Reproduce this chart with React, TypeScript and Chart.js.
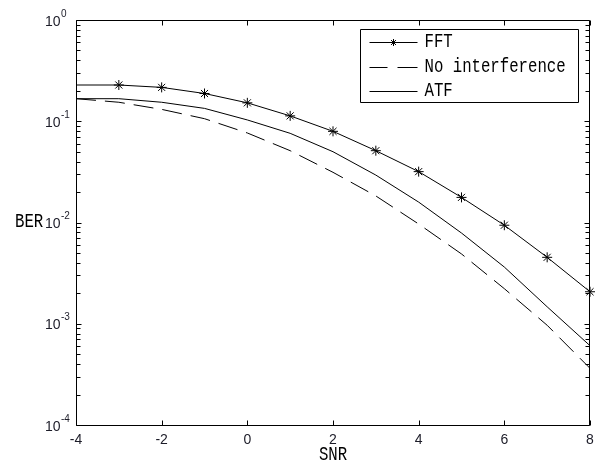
import React, { useEffect, useRef } from 'react';
import { Chart, registerables } from 'chart.js';

Chart.register(...registerables);

// ---- data ----
const snr = [-4, -3, -2, -1, 0, 1, 2, 3, 4, 5, 6, 7, 8];
const berFFT = [0.228, 0.228, 0.216, 0.188, 0.152, 0.113, 0.0795, 0.0512, 0.0318, 0.0177, 0.0094, 0.00453, 0.00207];
const berNoInterference = [0.167, 0.154, 0.131, 0.106, 0.0766, 0.0512, 0.0313, 0.0183, 0.00966, 0.00489, 0.00222, 0.000966, 0.000363];
const berATF = [0.167, 0.167, 0.154, 0.134, 0.103, 0.076, 0.05, 0.0294, 0.0159, 0.00787, 0.00363, 0.00147, 0.000607];
const seriesLabels = ['FFT', 'No interference', 'ATF'];
const xTickValues = [-4, -2, 0, 2, 4, 6, 8];
const yDecadeExponents = [-4, -3, -2, -1, 0];
const minorMultipliers = [2, 3, 4, 5, 6, 7, 8, 9];
const xTitle = 'SNR';
const yTitle = 'BER';

const MONO = '"Liberation Mono", Cousine, "Courier New", Courier, "Nimbus Mono PS", "Nimbus Mono L", FreeMono, "Liberation Serif", serif';
const SANS = '"Liberation Sans", Arial, sans-serif';
const INK = '#000000';
const LABEL_INK = '#1c1c28';

function drawStar(ctx: CanvasRenderingContext2D, x: number, y: number, r: number) {
  const d = r * Math.SQRT1_2;
  ctx.beginPath();
  ctx.moveTo(x - r, y);
  ctx.lineTo(x + r, y);
  ctx.moveTo(x, y - r);
  ctx.lineTo(x, y + r);
  ctx.moveTo(x - d, y - d);
  ctx.lineTo(x + d, y + d);
  ctx.moveTo(x - d, y + d);
  ctx.lineTo(x + d, y - d);
  ctx.stroke();
}

function monoText(ctx: CanvasRenderingContext2D, text: string, x: number, y: number, align: CanvasTextAlign) {
  ctx.save();
  ctx.font = `16px ${MONO}`;
  ctx.fillStyle = INK;
  ctx.textAlign = align;
  ctx.textBaseline = 'middle';
  ctx.translate(x, y);
  ctx.scale(0.98, 1.25);
  ctx.fillText(text, 0, 0);
  ctx.restore();
}

const matlabAxesPlugin = {
  id: 'matlabAxes',
  afterDatasetsDraw(chart: any) {
    const { ctx, chartArea: a, scales } = chart;
    const xs = scales.x;
    const ys = scales.y;
    const L = Math.round(a.left) + 0.5;
    const R = Math.round(a.right) - 0.5;
    const T = Math.round(a.top) + 0.5;
    const B = Math.round(a.bottom) + 0.5;
    ctx.save();
    ctx.strokeStyle = INK;
    ctx.lineWidth = 1;
    ctx.setLineDash([]);

    // box
    ctx.beginPath();
    ctx.rect(L, T, R - L, B - T);
    ctx.stroke();

    // x ticks (inside, top and bottom)
    ctx.beginPath();
    xTickValues.forEach((v) => {
      const px = Math.round(xs.getPixelForValue(v)) + 0.5;
      ctx.moveTo(px, B);
      ctx.lineTo(px, B - 5);
      ctx.moveTo(px, T);
      ctx.lineTo(px, T + 5);
    });
    // y ticks (major + minor, left and right)
    yDecadeExponents.forEach((e) => {
      const py = Math.round(ys.getPixelForValue(Math.pow(10, e))) + 0.5;
      ctx.moveTo(L, py);
      ctx.lineTo(L + 5, py);
      ctx.moveTo(R, py);
      ctx.lineTo(R - 5, py);
      if (e < 0) {
        minorMultipliers.forEach((m) => {
          const pm = Math.round(ys.getPixelForValue(m * Math.pow(10, e))) + 0.5;
          ctx.moveTo(L, pm);
          ctx.lineTo(L + 4, pm);
          ctx.moveTo(R, pm);
          ctx.lineTo(R - 4, pm);
        });
      }
    });
    ctx.stroke();

    // y tick labels 10^e
    ctx.fillStyle = LABEL_INK;
    yDecadeExponents.forEach((e) => {
      const py = ys.getPixelForValue(Math.pow(10, e));
      ctx.font = `14px ${SANS}`;
      ctx.textAlign = 'right';
      ctx.textBaseline = 'alphabetic';
      ctx.fillText('10', 60.5, py + 5.5);
      ctx.font = `10px ${SANS}`;
      ctx.textAlign = 'left';
      ctx.fillText(String(e), 61, py - 3.5);
    });

    // axis titles
    monoText(ctx, yTitle, 15, ys.getPixelForValue(Math.pow(10, -2)) - 1, 'left');
    monoText(ctx, xTitle, (a.left + a.right) / 2, 455, 'center');

    // legend
    const bx = Math.round(a.right) - 12 + 0.5;
    const lx = Math.round(a.top) + 10 - 0.5;
    const boxL = bx - 218;
    const boxT = lx;
    ctx.fillStyle = '#ffffff';
    ctx.fillRect(boxL, boxT, 218, 73);
    ctx.beginPath();
    ctx.rect(boxL, boxT, 218, 73);
    ctx.stroke();
    const rows = [boxT + 12, boxT + 37.5, boxT + 61];
    const s0 = boxL + 9;
    const s1 = boxL + 57;
    rows.forEach((ry, i) => {
      const yy = Math.round(ry) + 0.5;
      ctx.beginPath();
      if (i === 1) {
        ctx.moveTo(s0, yy);
        ctx.lineTo(s0 + 18, yy);
        ctx.moveTo(s0 + 28, yy);
        ctx.lineTo(s1, yy);
      } else {
        ctx.moveTo(s0, yy);
        ctx.lineTo(s1, yy);
      }
      ctx.stroke();
      if (i === 0) drawStar(ctx, (s0 + s1) / 2, yy, 3.5);
      monoText(ctx, seriesLabels[i], boxL + 64, ry, 'left');
    });
    ctx.restore();
  },
};

export default function App() {
  const ref = useRef<HTMLCanvasElement | null>(null);

  useEffect(() => {
    if (!ref.current) return;
    const mk = (vals: number[]) => snr.map((x, i) => ({ x, y: vals[i] }));
    const chart = new Chart(ref.current, {
      type: 'line',
      data: {
        datasets: [
          {
            label: seriesLabels[0],
            data: mk(berFFT),
            borderColor: INK,
            borderWidth: 1,
            pointStyle: 'star',
            pointRadius: snr.map((_, i) => (i === 0 ? 0 : 5)),
            pointBorderColor: INK,
            pointBorderWidth: 1,
            pointBackgroundColor: INK,
            tension: 0,
            clip: false as any,
          },
          {
            label: seriesLabels[1],
            data: mk(berNoInterference),
            borderColor: INK,
            borderWidth: 1,
            borderDash: [20, 9],
            pointRadius: 0,
            tension: 0,
          },
          {
            label: seriesLabels[2],
            data: mk(berATF),
            borderColor: INK,
            borderWidth: 1,
            pointRadius: 0,
            tension: 0,
          },
        ],
      },
      options: {
        animation: false,
        responsive: false,
        events: [],
        layout: { padding: { left: 0, right: 11, top: 20, bottom: 0 } },
        plugins: { legend: { display: false }, tooltip: { enabled: false } },
        scales: {
          x: {
            type: 'linear',
            min: -4,
            max: 8,
            afterFit: (s: any) => {
              s.height = 40;
            },
            grid: { display: false, drawTicks: false },
            border: { display: false },
            ticks: {
              stepSize: 2,
              padding: 7,
              color: LABEL_INK,
              font: { family: SANS, size: 14 },
              autoSkip: false,
              maxRotation: 0,
            },
          },
          y: {
            type: 'logarithmic',
            min: 1e-4,
            max: 1,
            afterFit: (s: any) => {
              s.width = 76;
            },
            grid: { display: false, drawTicks: false },
            border: { display: false },
            ticks: { display: false },
          },
        },
      },
      plugins: [matlabAxesPlugin],
    });
    return () => chart.destroy();
  }, []);

  return (
    <div style={{ position: 'fixed', left: 0, top: 0, width: 601, height: 465, background: '#ffffff' }}>
      <canvas ref={ref} width={601} height={465} style={{ display: 'block' }} />
    </div>
  );
}
